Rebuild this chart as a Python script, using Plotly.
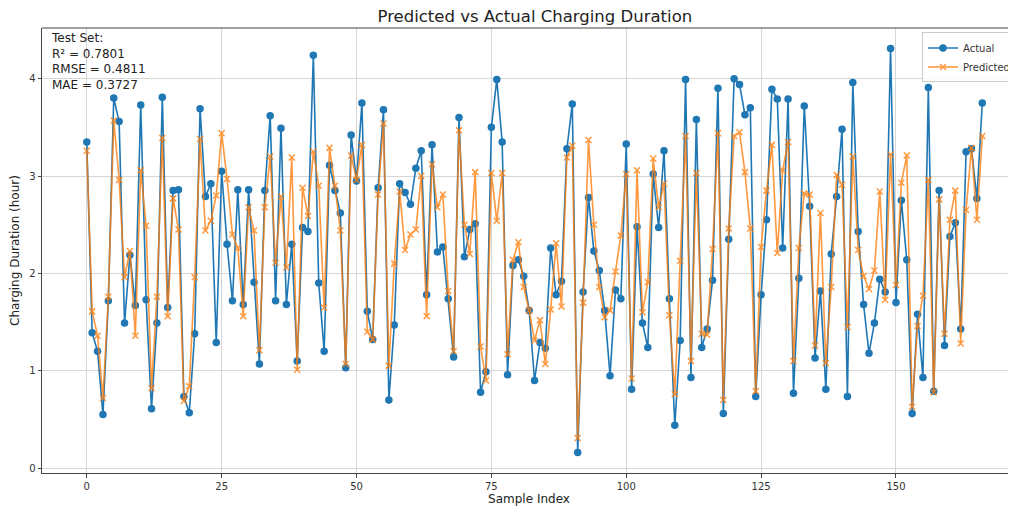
import plotly.graph_objects as go

actual = [
    3.35, 1.39, 1.20, 0.55, 1.72, 3.80, 3.56, 1.49, 2.19, 1.67,
    3.73, 1.73, 0.61, 1.49, 3.81, 1.65, 2.85, 2.86, 0.735, 0.57,
    1.38, 3.69, 2.79, 2.92, 1.29, 3.05, 2.30, 1.72, 2.86, 1.68,
    2.86, 1.91, 1.07, 2.85, 3.62, 1.72, 3.49, 1.68, 2.30, 1.10,
    2.47, 2.43, 4.24, 1.90, 1.20, 3.11, 2.85, 2.62, 1.03, 3.42,
    2.95, 3.75, 1.61, 1.32, 2.88, 3.68, 0.70, 1.47, 2.92, 2.83,
    2.71, 3.08, 3.26, 1.78, 3.32, 2.22, 2.27, 1.74, 1.14, 3.60,
    2.17, 2.45, 2.51, 0.78, 0.99, 3.50, 3.99, 3.35, 0.96, 2.08,
    2.14, 1.97, 1.62, 0.90, 1.29, 1.23, 2.26, 1.78, 1.92, 3.28,
    3.74, 0.16, 1.81, 2.78, 2.23, 2.03, 1.62, 0.95, 1.83, 1.74,
    3.33, 0.81, 2.48, 1.49, 1.24, 3.02, 2.47, 3.26, 1.74, 0.44,
    1.31, 3.99, 0.93, 3.58, 1.24, 1.43, 1.93, 3.90, 0.56, 2.35,
    4.00, 3.94, 3.63, 3.70, 0.735, 1.78, 2.55, 3.89, 3.79, 2.26,
    3.79, 0.77, 1.95, 3.72, 2.69, 1.13, 1.82, 0.81, 2.20, 2.79,
    3.48, 0.735, 3.96, 2.43, 1.68, 1.18, 1.49, 1.94, 1.81, 4.31,
    1.70, 2.75, 2.14, 0.56, 1.58, 0.93, 3.91, 0.79, 2.85, 1.26,
    2.38, 2.52, 1.43, 3.25, 3.28, 2.77, 3.75,
]

predicted = [
    3.26, 1.61, 1.36, 0.72, 1.76, 3.57, 2.96, 1.96, 2.23, 1.36,
    3.06, 2.49, 0.82, 1.76, 3.39, 1.56, 2.77, 2.45, 0.69, 0.84,
    1.96, 3.38, 2.44, 2.54, 2.80, 3.44, 2.97, 2.40, 2.26, 1.56,
    2.68, 2.44, 1.21, 2.68, 3.20, 2.11, 2.79, 2.06, 3.19, 1.01,
    2.88, 2.59, 3.25, 2.90, 1.65, 3.29, 2.90, 2.44, 1.07, 3.21,
    2.96, 3.32, 1.40, 1.32, 2.81, 3.54, 1.05, 2.10, 2.84, 2.24,
    2.40, 2.45, 3.00, 1.56, 3.12, 2.68, 2.81, 1.82, 1.20, 3.47,
    2.50, 2.20, 3.04, 1.25, 0.90, 3.03, 2.54, 3.03, 1.17, 2.14,
    2.32, 1.86, 1.62, 1.31, 1.52, 1.07, 1.63, 2.31, 1.66, 3.19,
    3.31, 0.31, 1.70, 3.37, 2.50, 1.86, 1.55, 1.62, 2.02, 2.39,
    3.02, 0.92, 3.06, 1.60, 1.91, 3.18, 2.68, 2.92, 1.57, 0.76,
    2.13, 3.41, 1.10, 3.03, 1.38, 1.37, 2.25, 3.44, 0.70, 2.46,
    3.41, 3.45, 3.04, 2.46, 0.79, 2.27, 2.85, 3.32, 2.21, 3.06,
    3.35, 1.10, 2.26, 2.82, 2.81, 1.26, 2.62, 1.08, 1.86, 3.01,
    2.91, 1.45, 3.20, 2.24, 1.97, 1.84, 2.03, 2.84, 1.73, 3.22,
    1.88, 2.93, 3.21, 0.63, 1.46, 1.77, 2.96, 0.78, 2.76, 1.38,
    2.55, 2.85, 1.28, 2.65, 3.29, 2.55, 3.41,
]

n = min(len(actual), len(predicted))
sample_index = list(range(n))

title_text = "Predicted vs Actual Charging Duration"
x_title = "Sample Index"
y_title = "Charging Duration (hour)"
x_ticks = [0, 25, 50, 75, 100, 125, 150]
y_ticks = [0, 1, 2, 3, 4]
metrics_text = "Test Set:<br>R² = 0.7801<br>RMSE = 0.4811<br>MAE = 0.3727"

BLUE = "#1f77b4"
ORANGE = "#ff7f0e"
FONT = "DejaVu Sans"

# The page body has an 8px default margin; size the figure to compensate.
W, H = 1008, 500

fig = go.Figure()
fig.add_trace(go.Scatter(
    x=sample_index, y=actual[:n], mode="lines+markers", name="Actual",
    line=dict(color=BLUE, width=1.6),
    marker=dict(symbol="circle", size=7.5, color=BLUE),
))
fig.add_trace(go.Scatter(
    x=sample_index, y=predicted[:n], mode="lines+markers", name="Predicted",
    line=dict(color=ORANGE, width=1.6),
    marker=dict(symbol="x-thin", size=6, color=ORANGE, line=dict(color=ORANGE, width=1.5)),
    opacity=0.8,
))

axis_common = dict(
    showline=True, linecolor="#444", linewidth=1, mirror=False,
    ticks="outside", ticklen=3.5, tickcolor="#444", tickwidth=1,
    showgrid=True, gridcolor="#d6d6d6", gridwidth=1, zeroline=False,
    tickfont=dict(family=FONT, size=10, color="#333"),
)

fig.update_layout(
    width=W, height=H,
    margin=dict(l=34, r=0, t=20, b=35, autoexpand=False),
    paper_bgcolor="white", plot_bgcolor="white",
    font=dict(family=FONT, color="#222"),
    title=dict(text=title_text, x=0.506, xref="paper", xanchor="center",
               y=1 - 8 / H, yref="container", yanchor="middle",
               font=dict(family=FONT, size=16.5, color="#222")),
    xaxis=dict(range=[-8.3, 172.25], tickvals=x_ticks,
               title=dict(text=x_title, font=dict(family=FONT, size=12), standoff=4),
               **axis_common),
    yaxis=dict(range=[-0.05, 4.52], tickvals=y_ticks,
               title=dict(text=y_title, font=dict(family=FONT, size=12), standoff=6),
               **axis_common),
    legend=dict(x=1.0, y=0.99, xanchor="right", yanchor="top",
                bgcolor="rgba(255,255,255,0.85)", bordercolor="#ccc", borderwidth=1,
                font=dict(family=FONT, size=10, color="#333"),
                tracegroupgap=0, itemwidth=30),
    showlegend=True,
)

# top border of axes (matplotlib spine)
fig.add_shape(type="line", xref="paper", yref="paper", x0=0, x1=1, y0=1, y1=1,
              line=dict(color="#444", width=1))

fig.add_annotation(
    text=metrics_text, xref="paper", yref="paper", x=0.007, y=0.997,
    xanchor="left", yanchor="top", align="left", showarrow=False,
    font=dict(family=FONT, size=12, color="#222"),
)

fig.write_html("out.html")
